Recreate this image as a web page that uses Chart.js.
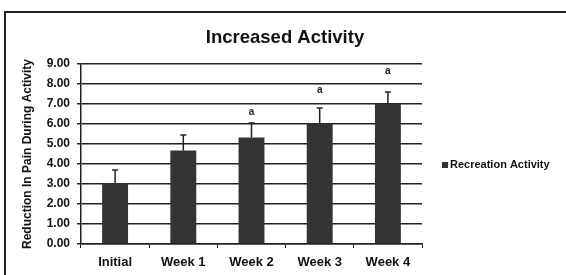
<!DOCTYPE html>
<html>
<head>
<meta charset="utf-8">
<script src="https://cdn.jsdelivr.net/npm/chart.js@4/dist/chart.umd.min.js"></script>
<style>
html,body{margin:0;padding:0;background:#fff;}
#wrap{position:relative;width:566px;height:275px;}
#frame{position:absolute;left:4px;top:11px;width:570px;height:280px;border-top:2px solid #222;border-left:2px solid #222;box-sizing:border-box;pointer-events:none;}
canvas{position:absolute;left:0;top:0;}
</style>
</head>
<body>
<div id="wrap">
<canvas id="c" width="566" height="275"></canvas>
<div id="frame"></div>
</div>
<script>
const categories = ["Initial", "Week 1", "Week 2", "Week 3", "Week 4"];
const seriesName = "Recreation Activity";
const chartTitle = "Increased Activity";
const values = [3.05, 4.67, 5.32, 6.03, 7.0];
const errors = [0.65, 0.78, 0.73, 0.77, 0.6];
const sigLabels = ["", "", "a", "a", "a"];
const sigLabelValues = [null, null, 6.6, 7.7, 8.65];
const yTicks = [0, 1, 2, 3, 4, 5, 6, 7, 8, 9];

const FONT = "'Liberation Sans', Arial, sans-serif";

const extras = {
  id: 'extras',
  afterDraw(chart) {
    const ctx = chart.ctx;
    const meta = chart.getDatasetMeta(0);
    const y = chart.scales.y;
    ctx.save();
    ctx.strokeStyle = '#222';
    ctx.lineWidth = 1.5;
    meta.data.forEach((bar, i) => {
      const x = bar.x;
      const yTop = y.getPixelForValue(values[i] + errors[i]);
      const yBase = y.getPixelForValue(values[i]);
      ctx.beginPath();
      ctx.moveTo(x, yBase);
      ctx.lineTo(x, yTop);
      ctx.moveTo(x - 3, yTop);
      ctx.lineTo(x + 3, yTop);
      ctx.stroke();
      if (sigLabels[i]) {
        ctx.fillStyle = '#222';
        ctx.font = "bold 10px " + FONT;
        ctx.textAlign = 'center';
        ctx.textBaseline = 'middle';
        ctx.fillText(sigLabels[i], x, y.getPixelForValue(sigLabelValues[i]));
      }
    });
    // title
    ctx.fillStyle = '#111';
    ctx.font = "bold 18.5px " + FONT;
    ctx.textAlign = 'center';
    ctx.textBaseline = 'middle';
    ctx.fillText(chartTitle, 285, 38);
    // legend
    const ly = 165;
    ctx.fillStyle = '#333';
    ctx.fillRect(442, ly - 3, 6, 6);
    ctx.fillStyle = '#111';
    ctx.font = "bold 11px " + FONT;
    ctx.textAlign = 'left';
    ctx.fillText(seriesName, 450, ly);
    ctx.restore();
  }
};

new Chart(document.getElementById('c'), {
  type: 'bar',
  data: {
    labels: categories,
    datasets: [{
      label: seriesName,
      data: values,
      backgroundColor: '#333333',
      borderWidth: 0,
      categoryPercentage: 1.0,
      barPercentage: 0.38
    }]
  },
  options: {
    responsive: false,
    animation: false,
    events: [],
    layout: { padding: { top: 64, right: 144, bottom: 0, left: 0 } },
    plugins: {
      legend: { display: false },
      tooltip: { enabled: false },
      title: { display: false }
    },
    scales: {
      x: {
        afterFit(s) { s.height = 31; },
        grid: { display: true, drawOnChartArea: false, drawTicks: true, tickLength: 4, offset: true, color: '#222', lineWidth: 1 },
        border: { display: true, color: '#222', width: 1.5 },
        ticks: { color: '#111', font: { family: FONT, size: 13, weight: 'bold' }, padding: 7 }
      },
      y: {
        min: 0, max: 9,
        afterFit(s) { s.width = 81; },
        afterBuildTicks(s) { s.ticks = yTicks.map(v => ({ value: v })); },
        grid: { color: '#222', lineWidth: 1.5, tickLength: 4 },
        border: { display: true, color: '#222', width: 1.5 },
        ticks: {
          color: '#111',
          font: { family: FONT, size: 12, weight: 'bold' },
          padding: 7,
          callback: v => Number(v).toFixed(2)
        },
        title: {
          display: true,
          text: 'Reduction In Pain During Activity',
          color: '#111',
          font: { family: FONT, size: 12, weight: 'bold' },
          padding: { top: 20, bottom: 0 }
        }
      }
    }
  },
  plugins: [extras]
});
</script>
</body>
</html>
